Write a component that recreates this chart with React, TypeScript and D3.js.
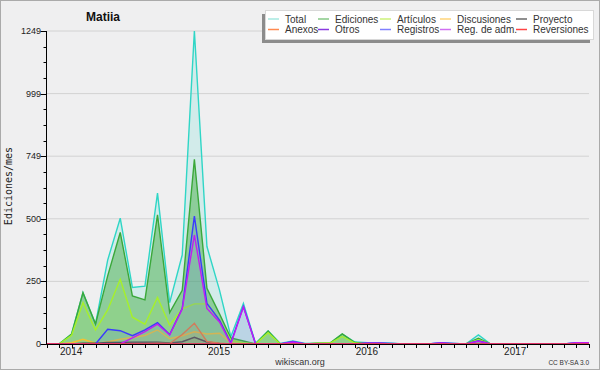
import React from 'react';
import * as d3 from 'd3';

const months = [
  '2013-12', '2014-01', '2014-02', '2014-03', '2014-04', '2014-05', '2014-06', '2014-07', '2014-08', '2014-09', '2014-10', '2014-11',
  '2014-12', '2015-01', '2015-02', '2015-03', '2015-04', '2015-05', '2015-06', '2015-07', '2015-08', '2015-09', '2015-10', '2015-11',
  '2015-12', '2016-01', '2016-02', '2016-03', '2016-04', '2016-05', '2016-06', '2016-07', '2016-08', '2016-09', '2016-10', '2016-11',
  '2016-12', '2017-01', '2017-02', '2017-03', '2017-04', '2017-05', '2017-06', '2017-07', '2017-08',
];

const total = [0, 0, 40, 205, 80, 335, 502, 226, 231, 602, 165, 355, 1249, 389, 215, 29, 162, 3, 52, 2, 12, 2, 3, 4, 40, 8, 5, 5, 3, 0, 0, 0, 5, 2, 0, 36, 0, 0, 0, 0, 0, 0, 0, 5, 5];
const ediciones = [0, 0, 40, 205, 80, 272, 445, 192, 176, 515, 125, 214, 737, 222, 120, 24, 12, 0, 52, 0, 2, 0, 3, 4, 40, 6, 1, 1, 1, 0, 0, 0, 0, 0, 0, 23, 0, 0, 0, 0, 0, 0, 0, 0, 0];
const articulos = [0, 0, 35, 165, 56, 136, 258, 107, 79, 186, 75, 140, 160, 160, 95, 15, 5, 0, 45, 0, 1, 0, 3, 4, 30, 4, 0, 0, 0, 0, 0, 0, 0, 0, 0, 17, 0, 0, 0, 0, 0, 0, 0, 0, 0];
const discusiones = [0, 0, 5, 19, 3, 8, 19, 26, 34, 56, 21, 33, 49, 40, 43, 5, 0, 0, 0, 0, 0, 0, 0, 0, 0, 0, 0, 0, 0, 0, 0, 0, 0, 0, 0, 0, 0, 0, 0, 0, 0, 0, 0, 0, 0];
const proyecto = [0, 0, 0, 3, 3, 6, 6, 7, 7, 7, 4, 9, 27, 8, 2, 0, 0, 0, 0, 0, 0, 0, 0, 0, 0, 0, 0, 0, 0, 0, 0, 0, 0, 0, 0, 0, 0, 0, 0, 0, 0, 0, 0, 0, 0];
const anexos = [0, 0, 0, 0, 0, 0, 0, 2, 2, 3, 2, 38, 83, 10, 3, 0, 0, 0, 0, 0, 0, 0, 0, 0, 0, 0, 0, 0, 0, 0, 0, 0, 0, 0, 0, 0, 0, 0, 0, 0, 0, 0, 0, 0, 0];
const otros = [0, 0, 0, 0, 0, 0, 0, 0, 0, 0, 0, 0, 0, 0, 0, 0, 0, 0, 0, 0, 0, 0, 0, 0, 0, 0, 0, 0, 0, 0, 0, 0, 0, 0, 0, 0, 0, 0, 0, 0, 0, 0, 0, 0, 0];
const registros = [0, 0, 0, 0, 0, 59, 53, 33, 56, 85, 38, 142, 510, 162, 95, 5, 150, 0, 0, 0, 10, 0, 0, 0, 0, 0, 4, 4, 2, 0, 0, 0, 5, 2, 0, 13, 0, 0, 0, 0, 0, 0, 0, 5, 5];
const regAdm = [0, 0, 0, 0, 0, 0, 0, 24, 49, 79, 36, 140, 435, 142, 88, 0, 148, 0, 0, 0, 8, 0, 0, 0, 0, 0, 3, 3, 0, 0, 0, 0, 4, 0, 0, 11, 0, 0, 0, 0, 0, 0, 0, 5, 5];
const reversiones = [0, 0, 0, 0, 0, 0, 0, 0, 0, 0, 0, 0, 0, 0, 0, 0, 0, 0, 0, 0, 0, 0, 0, 0, 0, 0, 0, 0, 0, 0, 0, 0, 0, 0, 0, 0, 0, 0, 0, 0, 0, 0, 0, 0, 0];

const seriesNames = ['Total', 'Ediciones', 'Artículos', 'Discusiones', 'Proyecto', 'Anexos', 'Otros', 'Registros', 'Reg. de adm.', 'Reversiones'];
const seriesValues = [total, ediciones, articulos, discusiones, proyecto, anexos, otros, registros, regAdm, reversiones];

const lineColors = ['#2fd6c6', '#3aa83a', '#a6f02a', '#f2c232', '#4a4a4a', '#f07a3a', '#8a2be2', '#3a3aff', '#c21cf2', '#f23a3a'];
const fillColors = ['#2fd6c6', '#3aa83a', '#a6f02a', '#f2c232', '#4a4a4a', '#f07a3a', '#8a2be2', '#5d8bd4', '#c21cf2', '#f23a3a'];
const legendColors = ['#a6e8e0', '#86c886', '#cdf27a', '#ffd47a', '#6a6a6a', '#ff8a50', '#8a3ae0', '#8080ff', '#d070f2', '#ff4444'];
const fillOpacities = [0.15, 0.45, 0.12, 0.1, 0.1, 0.1, 0.1, 0.2, 0.02, 0.1];

const yMax = 1249;
const yTickLabels = ['0', '250', '500', '749', '999', '1249'];
const yearLabels = ['2014', '2015', '2016', '2017'];

const title = 'Matiia';
const yAxisTitle = 'Ediciones/mes';

const W = 600;
const H = 370;
const left = 46.5;
const right = 589;
const top = 31;
const bottom = 344;
const FONT = '"Liberation Sans", Arial, sans-serif';

export default function App() {
  const parse = d3.timeParse('%Y-%m');
  const dates = months.map((m) => parse(m) as Date);
  const x = d3.scaleTime().domain([dates[0], dates[dates.length - 1]]).range([left, right]);
  const y = d3.scaleLinear().domain([0, yMax]).range([bottom, top]);

  const majorVals = yTickLabels.map((_, i) => (i * yMax) / (yTickLabels.length - 1));
  const minorVals = d3.range(0, 21).map((i) => (i * yMax) / 20);

  const area = d3
    .area<number>()
    .x((_, i) => x(dates[i]))
    .y0(bottom)
    .y1((d) => y(d));
  const line = d3
    .line<number>()
    .x((_, i) => x(dates[i]))
    .y((d) => y(d));

  const legendTextX = [285, 335, 397, 457, 533];
  const legendRowY = [19, 29.5];

  return (
    <svg width={W} height={H} style={{ position: 'absolute', left: 0, top: 0, display: 'block' }} xmlns="http://www.w3.org/2000/svg">
      <rect x={0.5} y={0.5} width={W - 1} height={H - 1} fill="#efeff0" stroke="#aaaaaa" />

      {/* grid */}
      {majorVals.slice(1).map((v, i) => (
        <line key={'g' + i} x1={left} x2={right} y1={y(v)} y2={y(v)} stroke="#d2d2d2" strokeWidth={1} />
      ))}

      {/* series */}
      {seriesValues.map((vals, si) => (
        <g key={'s' + si}>
          <path d={area(vals) || ''} fill={fillColors[si]} fillOpacity={fillOpacities[si]} stroke="none" />
          <path d={line(vals) || ''} fill="none" stroke={lineColors[si]} strokeWidth={1.4} strokeLinejoin="miter" />
        </g>
      ))}

      {/* y axis */}
      <line x1={left} x2={left} y1={top} y2={bottom} stroke="#000" strokeWidth={1} />
      {minorVals.map((v, i) => (
        <line key={'mt' + i} x1={left - 3} x2={left} y1={Math.round(y(v)) + 0.5} y2={Math.round(y(v)) + 0.5} stroke="#000" />
      ))}
      {majorVals.map((v, i) => (
        <g key={'yt' + i}>
          <line x1={left - 6} x2={left} y1={Math.round(y(v)) + 0.5} y2={Math.round(y(v)) + 0.5} stroke="#000" />
          <text x={41} y={y(v) + 3} fontSize={9} fontFamily={FONT} textAnchor="end" fill="#222">
            {yTickLabels[i]}
          </text>
        </g>
      ))}

      {/* x axis */}
      <line x1={left} x2={right + 0.5} y1={bottom + 0.5} y2={bottom + 0.5} stroke="#000" strokeWidth={1} />
      {dates.map((d, i) => (
        <line key={'xt' + i} x1={Math.round(x(d)) + 0.5} x2={Math.round(x(d)) + 0.5} y1={bottom} y2={bottom + 4} stroke="#000" />
      ))}
      {yearLabels.map((yl) => {
        const d = parse(yl + '-01') as Date;
        return (
          <text key={yl} x={x(d) + 1} y={355} fontSize={10} fontFamily={FONT} fill="#222">
            {yl}
          </text>
        );
      })}

      {/* titles */}
      <text x={103} y={21} fontSize={12} fontWeight="bold" fontFamily={FONT} textAnchor="middle" fill="#111">
        {title}
      </text>
      <text
        transform={`translate(12,186) rotate(-90)`}
        fontSize={10}
        fontFamily='"DejaVu Sans Mono", monospace'
        textAnchor="middle"
        fill="#222"
      >
        {yAxisTitle}
      </text>
      <text x={300} y={365} fontSize={9} fontFamily={FONT} textAnchor="middle" fill="#333">
        wikiscan.org
      </text>
      <text x={589} y={365} fontSize={6.5} fontFamily={FONT} textAnchor="end" fill="#333">
        CC BY-SA 3.0
      </text>

      {/* legend */}
      <rect x={262} y={14} width={328} height={29} fill="#8c8c8c" />
      <rect x={265.5} y={10.5} width={328} height={29} fill="#ffffff" stroke="#d8d8d8" />
      {seriesNames.map((name, i) => {
        const col = i % 5;
        const row = Math.floor(i / 5);
        const tx = legendTextX[col];
        const ly = legendRowY[row];
        return (
          <g key={'l' + i}>
            <line x1={tx - 17} x2={tx - 6} y1={ly} y2={ly} stroke={legendColors[i]} strokeWidth={1.5} />
            <text x={tx} y={ly + 3.8} fontSize={10} fontFamily={FONT} fill="#333">
              {name}
            </text>
          </g>
        );
      })}
    </svg>
  );
}
